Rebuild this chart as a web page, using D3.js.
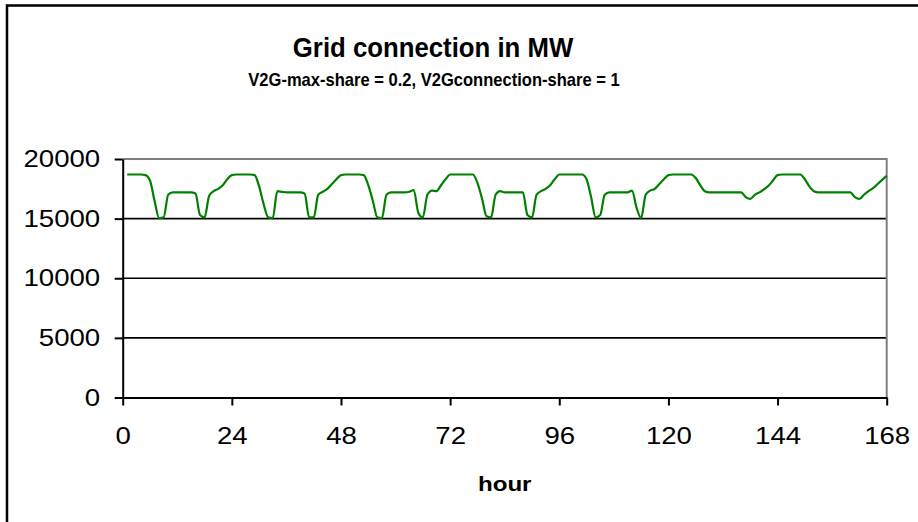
<!DOCTYPE html>
<html>
<head>
<meta charset="utf-8">
<script src="https://cdn.jsdelivr.net/npm/d3@7"></script>
<style>
  html, body { margin: 0; padding: 0; background: #fff; }
  svg { display: block; }
  text { font-family: "Liberation Sans", Arial, sans-serif; fill: #000; }
</style>
</head>
<body>
<svg id="chart" width="918" height="522"></svg>
<script>
// Hourly grid connection (MW) over one week, hours 1..168
const hours = d3.range(1, 169);
const gridMW = [
  // day 1
  18700, 18700, 18700, 18700, 18650, 18200, 16500, 15050, 15100, 17000, 17200, 17200,
  17200, 17200, 17200, 17100, 15300, 15100, 16900, 17300, 17500, 17800, 18300, 18650,
  // day 2
  18700, 18700, 18700, 18700, 18650, 17700, 16200, 15100, 15050, 17300, 17250, 17200,
  17200, 17200, 17200, 17100, 15100, 15100, 17000, 17250, 17500, 17900, 18300, 18650,
  // day 3
  18700, 18700, 18700, 18700, 18650, 17800, 16500, 15100, 15050, 17000, 17200, 17200,
  17200, 17200, 17250, 17400, 15500, 15100, 17000, 17350, 17300, 17800, 18300, 18700,
  // day 4
  18700, 18700, 18700, 18700, 18700, 18000, 16700, 15200, 15100, 17000, 17300, 17200,
  17200, 17200, 17200, 17200, 15300, 15100, 17000, 17300, 17500, 17800, 18300, 18700,
  // day 5
  18700, 18700, 18700, 18700, 18700, 18300, 16800, 15100, 15300, 17000, 17200, 17200,
  17200, 17200, 17200, 17350, 15900, 15050, 17000, 17350, 17500, 17900, 18300, 18650,
  // day 6
  18700, 18700, 18700, 18700, 18700, 18400, 17800, 17300, 17200, 17200, 17200, 17200,
  17200, 17200, 17200, 17200, 16800, 16650, 17000, 17200, 17450, 17750, 18200, 18650,
  // day 7
  18700, 18700, 18700, 18700, 18700, 18300, 17700, 17300, 17200, 17200, 17200, 17200,
  17200, 17200, 17200, 17200, 16800, 16650, 17000, 17300, 17550, 17900, 18250, 18600
];
const yTicks = [0, 5000, 10000, 15000, 20000];
const xTicks = [0, 24, 48, 72, 96, 120, 144, 168];
const titleText = "Grid connection in MW";
const subtitleText = "V2G-max-share = 0.2, V2Gconnection-share = 1";
const xAxisTitle = "hour";

const svg = d3.select("#chart");
const plot = { left: 122.7, right: 886.7, top: 159, bottom: 397.5 };
const labelStretch = 1.15;   // horizontal widening of axis lettering

const x = d3.scaleLinear().domain([0, 168]).range([plot.left, plot.right]);
const y = d3.scaleLinear().domain([0, 20000]).range([plot.bottom, plot.top]);

// Chart frame (left and top edges)
svg.append("path")
  .attr("d", `M7,530V5.5H930`)
  .attr("fill", "none")
  .attr("stroke", "#000")
  .attr("stroke-width", 2.5);

// Titles
svg.append("text")
  .attr("transform", "translate(433,57) scale(0.92,1)")
  .attr("text-anchor", "middle")
  .attr("font-size", 28).attr("font-weight", "bold")
  .text(titleText);
svg.append("text")
  .attr("transform", "translate(434,86) scale(0.93,1)")
  .attr("text-anchor", "middle")
  .attr("font-size", 17.8).attr("font-weight", "bold")
  .text(subtitleText);

// Horizontal gridlines
svg.append("g")
  .selectAll("line")
  .data(yTicks.filter(v => v > 0 && v < 20000))
  .join("line")
  .attr("x1", plot.left).attr("x2", plot.right)
  .attr("y1", d => y(d)).attr("y2", d => y(d))
  .attr("stroke", "#000").attr("stroke-width", 1.6);

// Plot area border: top and right in grey
svg.append("path")
  .attr("d", `M${plot.left},${y(20000)}H${plot.right}V${plot.bottom}`)
  .attr("fill", "none")
  .attr("stroke", "#808080")
  .attr("stroke-width", 2);

// Series line
const series = hours.map((h, i) => ({ h, v: gridMW[i] }));
svg.append("path")
  .datum(series)
  .attr("fill", "none")
  .attr("stroke", "#008000")
  .attr("stroke-width", 2.2)
  .attr("stroke-linejoin", "round")
  .attr("d", d3.line().x(d => x(d.h)).y(d => y(d.v)).curve(d3.curveMonotoneX));

// Y axis
const yTickSize = 8, yPad = 14.5;
const yAxis = svg.append("g")
  .attr("transform", `translate(${plot.left},0)`)
  .call(d3.axisLeft(y).tickValues(yTicks).tickSize(yTickSize).tickSizeOuter(0)
    .tickPadding(yPad).tickFormat(d3.format("d")));
yAxis.select(".domain").attr("stroke", "#000").attr("stroke-width", 2);
yAxis.selectAll(".tick line").attr("stroke", "#000").attr("stroke-width", 2);
yAxis.selectAll(".tick text")
  .attr("font-size", 24).attr("font-family", "Liberation Sans, Arial, sans-serif")
  .attr("fill", "#000")
  .attr("x", -(yTickSize + yPad) / labelStretch)
  .attr("transform", `scale(${labelStretch},1)`);

// X axis
const xAxis = svg.append("g")
  .attr("transform", `translate(0,${plot.bottom})`)
  .call(d3.axisBottom(x).tickValues(xTicks).tickSize(8).tickSizeOuter(0)
    .tickPadding(21).tickFormat(d3.format("d")));
xAxis.select(".domain").attr("stroke", "#000").attr("stroke-width", 2);
xAxis.selectAll(".tick line").attr("stroke", "#000").attr("stroke-width", 2);
xAxis.selectAll(".tick text")
  .attr("font-size", 24).attr("font-family", "Liberation Sans, Arial, sans-serif")
  .attr("fill", "#000")
  .attr("transform", `scale(${labelStretch},1)`);

// X axis title
svg.append("text")
  .attr("transform", `translate(${(plot.left + plot.right) / 2},491) scale(${labelStretch},1)`)
  .attr("text-anchor", "middle")
  .attr("font-size", 21).attr("font-weight", "bold")
  .text(xAxisTitle);
</script>
</body>
</html>
